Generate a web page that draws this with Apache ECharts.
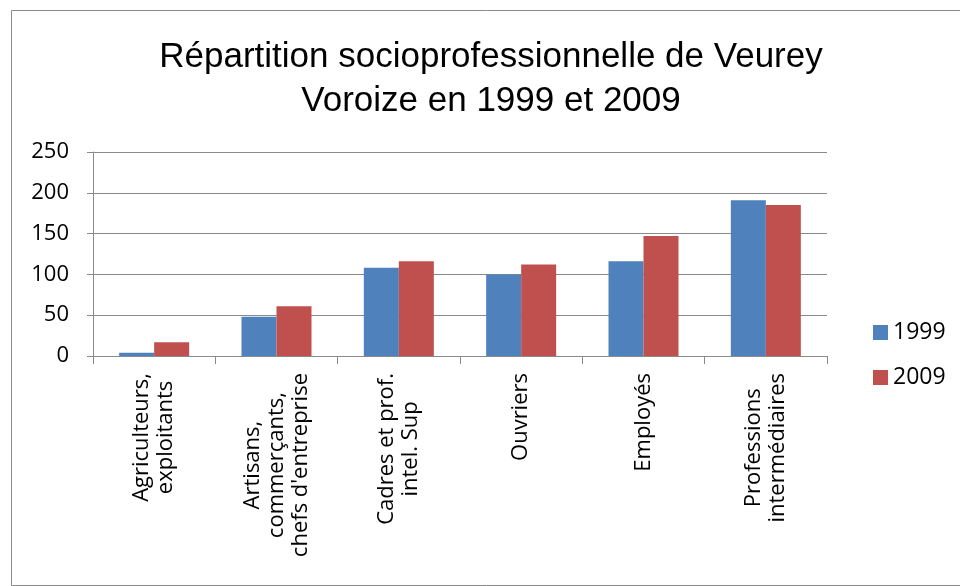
<!DOCTYPE html>
<html>
<head>
<meta charset="utf-8">
<script src="https://cdn.jsdelivr.net/npm/echarts@6/dist/echarts.min.js"></script>
<style>
html, body { margin: 0; padding: 0; background: #fff; }
#chart { width: 960px; height: 586px; }
</style>
</head>
<body>
<div id="chart"></div>
<script>
const categories = [
	'Agriculteurs,\nexploitants',
	'Artisans,\ncommerçants,\nchefs d\'entreprise',
	'Cadres et prof.\nintel. Sup',
	'Ouvriers',
	'Employés',
	'Professions\nintermédiaires'
];
const values1999 = [4, 48, 108, 100, 116, 191];
const values2009 = [17, 61, 116, 112, 147, 185];
const seriesNames = ['1999', '2009'];
const colorList = ['#4F81BD', '#C0504D'];

const chart = echarts.init(document.getElementById('chart'));

const option = {
	backgroundColor: '#fff',
	animation: false,
	title: {
		text: 'Répartition socioprofessionnelle de Veurey\nVoroize en 1999 et 2009',
		left: 486,
		top: 30,
		textAlign: 'center',
		textStyle: {
			fontFamily: 'Liberation Sans',
			fontSize: 35,
			fontWeight: 'normal',
			color: '#000',
			lineHeight: 44
		}
	},
	graphic: [{
		type: 'rect',
		shape: { x: 11.5, y: 10.5, width: 960, height: 575 },
		style: { fill: 'none', stroke: '#8a8a8a', lineWidth: 1 },
		silent: true
	}],
	legend: {
		orient: 'vertical',
		left: 868,
		top: 316,
		itemWidth: 15,
		itemHeight: 15,
		itemGap: 22,
		icon: 'rect',
		textStyle: { fontFamily: 'Open Sans', fontSize: 23, color: '#000' }
	},
	grid: { left: 93, right: 133, top: 152, bottom: 230, outerBoundsMode: 'none' },
	xAxis: {
		type: 'category',
		data: categories,
		axisLine: { lineStyle: { color: '#8a8a8a', width: 1 } },
		axisTick: { show: true, length: 8, lineStyle: { color: '#8a8a8a' } },
		axisLabel: {
			rotate: 90,
			interval: 0,
			margin: 17,
			formatter: (v) => v.split('\n').map(s => '{c|' + s + '}').join('\n'),
			rich: {
				c: { align: 'center', fontFamily: 'Open Sans', fontSize: 22, color: '#000', lineHeight: 24 }
			}
		}
	},
	yAxis: {
		type: 'value',
		min: 0,
		max: 250,
		interval: 50,
		axisLine: { show: true, lineStyle: { color: '#8a8a8a', width: 1 } },
		axisTick: { show: true, length: 6, lineStyle: { color: '#8a8a8a' } },
		splitLine: { lineStyle: { color: '#8a8a8a', width: 1 } },
		axisLabel: { margin: 24, fontFamily: 'Open Sans', fontSize: 22, color: '#000' }
	},
	series: [values1999, values2009].map((arr, i) => ({
		name: seriesNames[i],
		type: 'bar',
		data: arr,
		barWidth: 35,
		barGap: '0%',
		itemStyle: { color: colorList[i] }
	}))
};

chart.setOption(option);
</script>
</body>
</html>
